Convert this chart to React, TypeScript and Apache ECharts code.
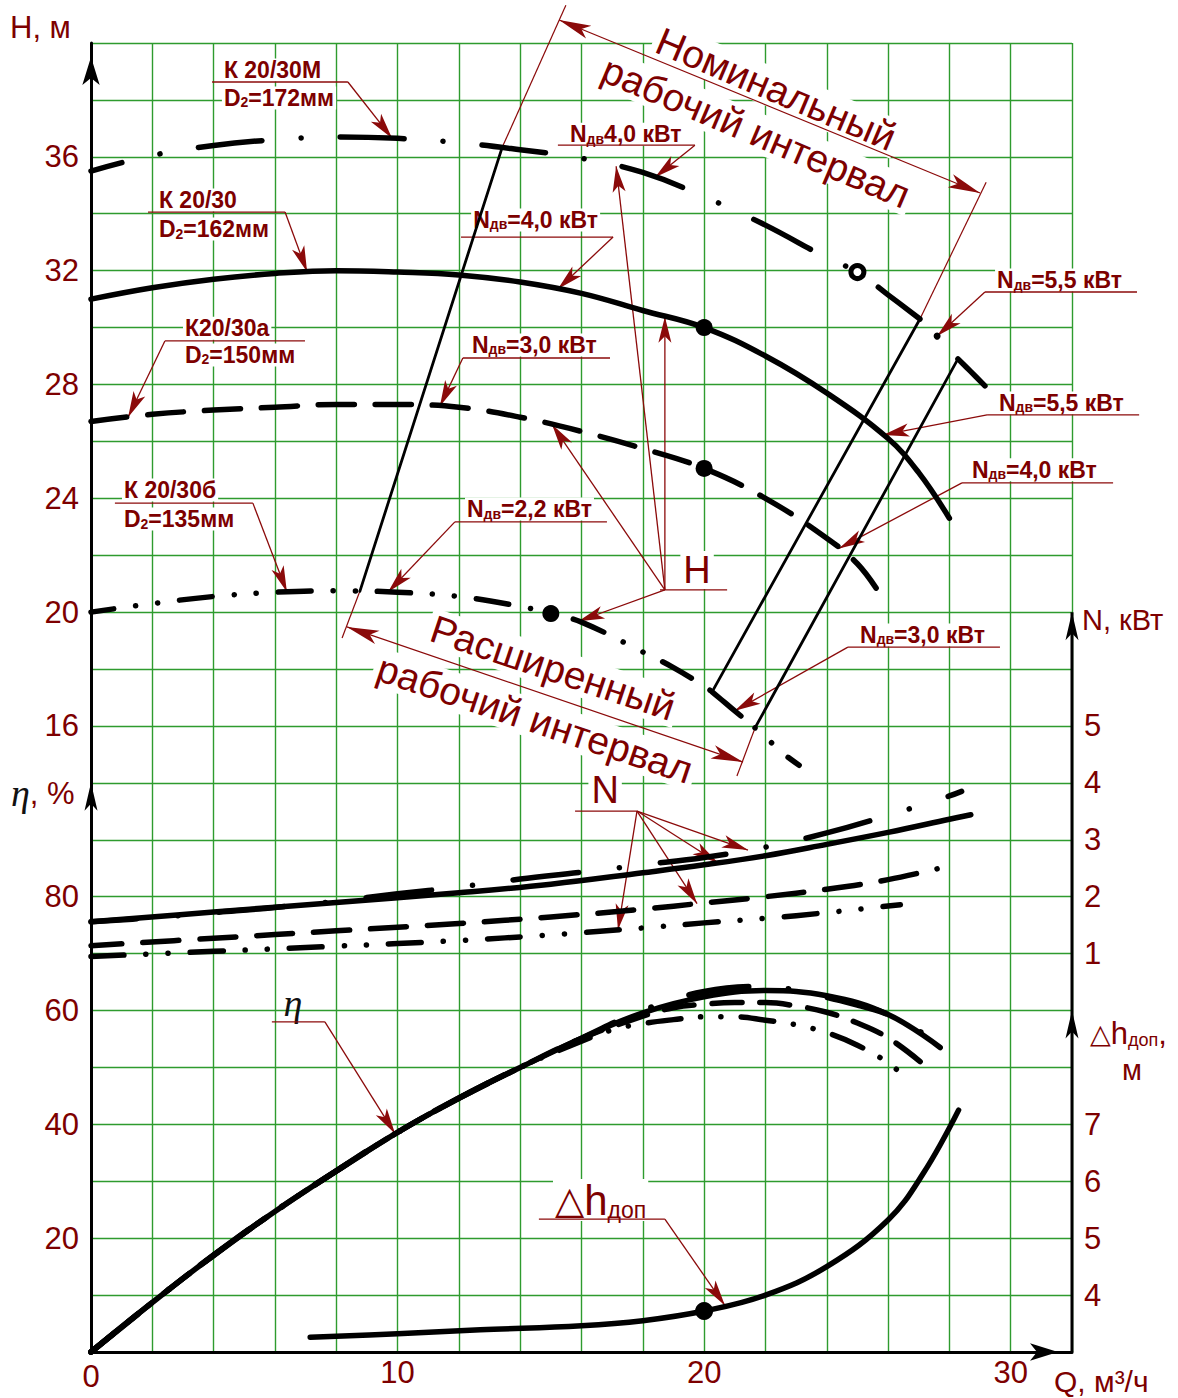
import React, { useEffect, useRef } from "react";
import * as echarts from "echarts";

/* ================= DATA ================= */
const qTickLabels = [0, 10, 20, 30];
const hTickLabels = [16, 20, 24, 28, 32, 36];
const etaTickLabels = [20, 40, 60, 80];
const nTickLabels = [1, 2, 3, 4, 5];
const dhTickLabels = [4, 5, 6, 7];

// H(Q), К 20/30М (D2=172мм)
const qHM = [0, 2, 4, 6, 8, 10, 12, 14, 16, 18, 20, 22, 24, 25, 26, 27.04];
const hHM = [35.5, 36.05, 36.4, 36.6, 36.7, 36.65, 36.5, 36.25, 35.95, 35.45, 34.6, 33.6, 32.45, 31.95, 31.15, 30.3];
const qHMdot = [27.6];
const hHMdot = [29.7];
const qHMtail = [28.28, 28.7, 29.16];
const hHMtail = [28.9, 28.45, 27.95];
// H(Q), К 20/30 (D2=162мм)
const qHS = [0, 2, 4, 6, 8, 10, 12, 14, 16, 18, 20, 22, 24, 26, 27, 28];
const hHS = [31.0, 31.4, 31.7, 31.9, 32.0, 31.95, 31.85, 31.6, 31.2, 30.6, 30.0, 29.0, 27.7, 26.1, 24.9, 23.3];
// H(Q), К20/30а (D2=150мм)
const qHA = [0, 2, 4, 6, 8, 10, 12, 14, 16, 18, 20, 22, 24, 25, 25.7];
const hHA = [26.7, 26.95, 27.1, 27.2, 27.3, 27.3, 27.2, 26.85, 26.35, 25.75, 25.05, 24.0, 22.6, 21.7, 20.7];
// H(Q), К 20/30б (D2=135мм)
const qHB = [0, 2, 4, 6, 8, 10, 12, 14, 15, 16, 18, 19, 20, 20.26];
const hHB = [20.0, 20.3, 20.55, 20.7, 20.75, 20.7, 20.55, 20.2, 19.95, 19.65, 18.6, 18.05, 17.4, 17.2];
const qHB2 = [20.26, 20.7, 21.2];
const hHB2 = [17.2, 16.8, 16.35];
const qHB3 = [21.66, 22, 22.5, 23.1];
const hHB3 = [15.93, 15.62, 15.1, 14.62];

// working interval boundaries (Q where the lines meet К20/30б and К20/30М)
const intervalLeftQ = [8.77, 13.41];
const intervalInnerQ = [20.26, 27.04];
const intervalOuterQ = [21.66, 28.28];

// N(Q), кВт
const qNM = [0, 2, 4, 6, 8, 10, 12, 14, 16, 18, 20, 22, 24, 26, 28, 28.4];
const nNM = [1.56, 1.63, 1.72, 1.81, 1.92, 2.05, 2.17, 2.31, 2.43, 2.56, 2.69, 2.87, 3.12, 3.43, 3.77, 3.85];
const qNS = [0, 4, 8, 12, 15, 18, 20, 22, 24, 26, 28, 28.7];
const nNS = [1.56, 1.73, 1.9, 2.07, 2.22, 2.42, 2.56, 2.72, 2.92, 3.13, 3.36, 3.44];
const qNA = [0, 4, 8, 12, 15, 18, 20, 22, 24, 26, 27.6];
const nNA = [1.14, 1.27, 1.4, 1.53, 1.645, 1.78, 1.89, 2.0, 2.13, 2.3, 2.49];
const qNB = [0, 4, 8, 12, 15, 18, 20, 22, 24, 26.4];
const nNB = [0.95, 1.04, 1.13, 1.23, 1.33, 1.45, 1.54, 1.62, 1.72, 1.86];

// η(Q), %
const qES = [0, 2, 4, 6, 8, 10, 12, 14, 16, 18, 20, 22, 24, 26, 27.7];
const eES = [0, 8.7, 17.0, 24.7, 31.8, 38.6, 44.6, 50.0, 55.1, 59.6, 62.4, 63.5, 62.6, 59.3, 53.5];
const qEM = [0, 2, 4, 6, 8, 10, 12, 14, 16, 18, 20, 22, 23, 25, 26, 27, 27.8];
const eEM = [0, 8.7, 17.0, 24.7, 31.8, 38.6, 44.6, 50.0, 55.1, 60.0, 63.3, 64.2, 63.5, 61.0, 59.3, 56.4, 53.6];
const qEA = [0, 2, 4, 6, 8, 10, 12, 14, 16, 18, 19, 20, 21, 22, 23, 24, 25, 26, 27.1];
const eEA = [0, 8.7, 17.0, 24.7, 31.8, 38.6, 44.6, 50.0, 55.1, 59.0, 60.5, 61.1, 61.4, 61.4, 60.8, 59.7, 57.8, 55.2, 50.8];
const qEB = [0, 2, 4, 6, 8, 10, 12, 14, 16, 17, 18, 19, 20, 21, 22, 23, 24, 25, 26, 26.7];
const eEB = [0, 8.7, 17.0, 24.7, 31.8, 38.6, 44.6, 50.0, 54.6, 56.6, 57.7, 58.4, 58.9, 58.9, 58.3, 57.5, 56.1, 53.9, 50.8, 47.6];

// Δh доп(Q), м
const qDH = [7.15, 10, 12.7, 16, 18, 20, 22, 24, 26, 27.15, 28.3];
const dDH = [3.26, 3.32, 3.39, 3.46, 3.55, 3.72, 4.0, 4.5, 5.32, 6.14, 7.25];

// marked operating points
const markQ_S = 20;
const markQ_A = 20;
const markQ_B = 15;
const markQ_M = 25;
const markQ_DH = 20;

/* ================= STYLE / HELPERS ================= */
const RED = "#7d0000";
const LRED = "#8b0a0a";
const GREEN = "#2e9b2e";
const SANS = "'Liberation Sans', Arial, Helvetica, sans-serif";
const SERIF = "'Liberation Serif', 'DejaVu Serif', 'Times New Roman', serif";

const AX: Record<string, { min: number; max: number }> = {
  H: { min: -6, max: 40 },
  eta: { min: 0, max: 230 },
  N: { min: -6, max: 17 },
  dh: { min: 3, max: 26 },
};
const toH = (axis: string, v: number) => {
  const a = AX[axis];
  const f = (v - a.min) / (a.max - a.min);
  return AX.H.min + f * (AX.H.max - AX.H.min);
};

function interp(qs: number[], vs: number[], q: number) {
  if (q <= qs[0]) return vs[0];
  for (let i = 1; i < qs.length; i++) {
    if (q <= qs[i]) {
      const t = (q - qs[i - 1]) / (qs[i] - qs[i - 1]);
      return vs[i - 1] + t * (vs[i] - vs[i - 1]);
    }
  }
  return vs[vs.length - 1];
}
const zip = (q: number[], v: number[]) => q.map((x, i) => [x, v[i]]);

function curve(data: number[][], yAxisIndex: number, lineStyle: any, smooth: any = 0.4) {
  return {
    type: "line",
    xAxisIndex: 0,
    yAxisIndex,
    data,
    symbol: "none",
    showSymbol: false,
    smooth,
    silent: true,
    z: 3,
    lineStyle: { color: "#000", width: 5.5, cap: "round", join: "round", opacity: 1, ...lineStyle },
  };
}

const DASH_DOT = [64, 39, 0.1, 39];
const DASHED = [36, 21];
const DASH_DOT_DOT = [33, 22, 0.1, 22, 0.1, 22];

/* ================= ANNOTATIONS (custom series, data coords) ================= */
const RB: any = {
  n: { fontSize: 23, fontWeight: "bold", fontFamily: SANS, fill: RED },
  s: { fontSize: 14, fontWeight: "bold", fontFamily: SANS, fill: RED, verticalAlign: "bottom" },
};
const ndv = (v: string) => `{n|N}{s|дв}{n|${v}}`;
const d2 = (v: string) => `{n|D}{s|2}{n|${v}}`;

function renderAnnotations(_params: any, api: any) {
  const P = (q: number, h: number): number[] => api.coord([q, h]);
  const texts: any[] = [];
  const lines: any[] = [];
  const seg = (a: number[], b: number[], color = LRED, w = 1.3) =>
    lines.push({ type: "line", shape: { x1: a[0], y1: a[1], x2: b[0], y2: b[1] }, style: { stroke: color, lineWidth: w } });
  const head = (from: number[], tip: number[], L: number, W: number, color: string) => {
    const dx = tip[0] - from[0];
    const dy = tip[1] - from[1];
    const len = Math.hypot(dx, dy) || 1;
    const ux = dx / len, uy = dy / len, nx = -uy, ny = ux;
    const bx = tip[0] - ux * L, by = tip[1] - uy * L;
    const mx = tip[0] - ux * L * 0.75, my = tip[1] - uy * L * 0.75;
    lines.push({
      type: "polygon",
      shape: { points: [[tip[0], tip[1]], [bx + nx * W, by + ny * W], [mx, my], [bx - nx * W, by - ny * W]] },
      style: { fill: color },
    });
  };
  const leader = (f: number[], t: number[]) => {
    const a = P(f[0], f[1]);
    const b = P(t[0], t[1]);
    seg(a, b);
    head(a, b, 26, 6.5, LRED);
  };
  const under = (q1: number, q2: number, h: number) => seg(P(q1, h), P(q2, h));
  const label = (q: number, h: number, text: string, rich: any = RB, extra: any = {}) => {
    const p = P(q, h);
    texts.push({
      type: "text",
      x: p[0],
      y: p[1],
      style: { text, rich, align: "left", verticalAlign: "middle", backgroundColor: "#fff", padding: [0, 2], ...extra },
    });
  };
  const big = (q: number, h: number, text: string, deg: number) => {
    const p = P(q, h);
    texts.push({
      type: "text",
      x: p[0],
      y: p[1],
      rotation: (-deg * Math.PI) / 180,
      style: { text, fill: RED, fontSize: 39, fontFamily: SANS, align: "center", verticalAlign: "middle", backgroundColor: "#fff", padding: [0, 4] },
    });
  };
  const M = (q: number) => interp(qHM, hHM, q);
  const S = (q: number) => interp(qHS, hHS, q);
  const A = (q: number) => interp(qHA, hHA, q);
  const B = (q: number) => interp(qHB, hHB, q);

  // curve labels
  label(4.27, 39.05, "{n|К 20/30М}");
  label(4.27, 38.07, d2("=172мм"));
  under(3.95, 8.38, 38.63);
  leader([8.38, 38.63], [9.82, M(9.82)]);

  label(2.15, 34.48, "{n|К 20/30}");
  label(2.15, 33.46, d2("=162мм"));
  under(1.86, 6.33, 34.06);
  leader([6.33, 34.06], [7.05, S(7.05)]);

  label(3.0, 29.98, "{n|К20/30а}");
  label(3.0, 29.04, d2("=150мм"));
  under(2.41, 6.98, 29.53);
  leader([2.41, 29.53], [1.21, A(1.21)]);

  label(1.01, 24.29, "{n|К 20/30б}");
  label(1.01, 23.27, d2("=135мм"));
  under(0.78, 5.28, 23.83);
  leader([5.28, 23.83], [6.39, B(6.39)]);

  // motor power labels
  label(15.56, 36.79, ndv("4,0 кВт"));
  under(15.23, 19.7, 36.41);
  leader([19.7, 36.41], [18.4, M(18.4)]);

  label(12.4, 33.78, ndv("=4,0 кВт"));
  under(12.07, 17.03, 33.18);
  leader([17.03, 33.18], [15.23, S(15.23)]);

  label(12.36, 29.39, ndv("=3,0 кВт"));
  under(12.13, 16.93, 28.93);
  leader([12.13, 28.93], [11.38, A(11.38)]);

  label(12.2, 23.62, ndv("=2,2 кВт"));
  under(11.87, 16.83, 23.17);
  leader([11.87, 23.17], [9.69, B(9.69)]);

  label(29.49, 31.67, ndv("=5,5 кВт"));
  under(29.16, 34.12, 31.25);
  leader([29.16, 31.25], [qHMdot[0], hHMdot[0]]);

  label(29.55, 27.35, ndv("=5,5 кВт"));
  under(29.23, 34.19, 26.93);
  leader([29.23, 26.93], [25.84, S(25.84)]);

  label(28.67, 25.0, ndv("=4,0 кВт"));
  under(28.41, 33.34, 24.54);
  leader([28.41, 24.54], [24.4, A(24.4)]);

  label(25.02, 19.2, ndv("=3,0 кВт"));
  under(24.69, 29.65, 18.77);
  leader([24.69, 18.77], [21.0, interp(qHB2, hHB2, 21.0)]);

  // "H" group label
  {
    const p = P(19.77, 21.48);
    texts.push({ type: "text", x: p[0], y: p[1], style: { text: "H", fill: RED, fontSize: 38, fontFamily: SANS, align: "center", verticalAlign: "middle", backgroundColor: "#fff", padding: [0, 3] } });
    under(18.56, 20.75, 20.78);
    const o = [18.72, 20.78];
    leader(o, [17.13, M(17.13)]);
    leader(o, [18.72, S(18.72)]);
    leader(o, [15.04, A(15.04)]);
    leader(o, [15.9, B(15.9)]);
  }
  // "N" group label
  {
    const p = P(16.77, 13.75);
    texts.push({ type: "text", x: p[0], y: p[1], style: { text: "N", fill: RED, fontSize: 38, fontFamily: SANS, align: "center", verticalAlign: "middle", backgroundColor: "#fff", padding: [0, 3] } });
    under(15.79, 17.81, 13.01);
    const o = [17.81, 13.01];
    leader(o, [21.43, toH("N", interp(qNM, nNM, 21.43))]);
    leader(o, [20.45, toH("N", interp(qNS, nNS, 20.45))]);
    leader(o, [19.77, toH("N", interp(qNA, nNA, 19.77))]);
    leader(o, [17.19, toH("N", interp(qNB, nNB, 17.19))]);
  }
  // η label
  {
    const p = P(6.59, 6.26);
    texts.push({ type: "text", x: p[0], y: p[1], style: { text: "η", fill: "#111", fontSize: 38, fontStyle: "italic", fontFamily: SERIF, align: "center", verticalAlign: "middle" } });
    under(5.9, 7.63, 5.6);
    leader([7.63, 5.6], [9.92, toH("eta", interp(qES, eES, 9.92))]);
  }
  // Δh label
  {
    label(15.07, -0.66, "{t|△}{h|h}{s|доп}", {
      t: { fontSize: 38, fontFamily: "'DejaVu Sans', sans-serif", fill: RED },
      h: { fontSize: 42, fontFamily: SANS, fill: RED },
      s: { fontSize: 23, fontFamily: SANS, fill: RED, verticalAlign: "bottom" },
    });
    under(14.61, 18.72, -1.33);
    leader([18.72, -1.33], [20.68, toH("dh", interp(qDH, dDH, 20.68))]);
  }

  // nominal working interval dimension
  big(22.35, 38.38, "Номинальный", 23);
  big(21.69, 36.87, "рабочий интервал", 23);
  {
    seg(P(intervalLeftQ[1], M(intervalLeftQ[1])), P(15.49, 41.33), LRED, 1.2);
    seg(P(intervalInnerQ[1], M(intervalInnerQ[1])), P(29.2, 35.11), LRED, 1.2);
    const a = P(15.27, 40.81), b = P(29.0, 34.73);
    seg(a, b, LRED, 1.2);
    head(b, a, 32, 7, LRED);
    head(a, b, 32, 7, LRED);
  }
  // extended working interval dimension
  big(15.07, 18.04, "Расширенный", 18.5);
  big(14.48, 16.24, "рабочий интервал", 18.5);
  {
    seg(P(intervalLeftQ[0], B(intervalLeftQ[0])), P(8.19, 19.09), LRED, 1.2);
    seg(P(intervalOuterQ[0], interp(qHB3, hHB3, intervalOuterQ[0])), P(21.07, 14.24), LRED, 1.2);
    const a = P(8.35, 19.48), b = P(21.27, 14.73);
    seg(a, b, LRED, 1.2);
    head(b, a, 32, 7, LRED);
    head(a, b, 32, 7, LRED);
  }

  // extra axis decorations: η arrow, right N / Δh axis
  {
    const etaTip = P(0, toH("eta", 100));
    head([etaTip[0], etaTip[1] + 40], etaTip, 28, 6.5, "#000");
    const rb = P(32, AX.H.min), rt = P(32, toH("N", 7));
    seg(rb, rt, "#000", 3);
    head([rt[0], rt[1] + 40], rt, 28, 6.5, "#000");
    const dhTip = P(32, toH("dh", 9));
    head([dhTip[0], dhTip[1] + 40], dhTip, 28, 6.5, "#000");
  }

  return { type: "group", children: [...texts, ...lines] };
}

/* ================= OPTION ================= */
function buildOption(): any {
  const labelBase = { fontSize: 31, color: RED, fontFamily: SANS };
  const yAxisBase = (axis: string, position: string, ticks: number[], interval: number, extra: any = {}) => ({
    type: "value",
    position,
    min: AX[axis].min,
    max: AX[axis].max,
    interval,
    axisLine: { show: false, onZero: false },
    axisTick: { show: false },
    splitLine: { show: false },
    axisLabel: { ...labelBase, margin: 12, formatter: (v: number) => (ticks.includes(v) ? String(v) : "") },
    ...extra,
  });
  const dotStyle = { color: "#000", opacity: 1 };

  const series: any[] = [
    // H curves
    curve(zip(qHM, hHM), 0, { type: DASH_DOT, dashOffset: 32 }),
    curve(zip(qHMtail, hHMtail), 0, { type: "solid" }),
    curve(zip(qHS, hHS), 0, { type: "solid" }),
    curve(zip(qHA, hHA), 0, { type: DASHED, dashOffset: 0 }),
    curve(zip(qHB, hHB), 0, { type: DASH_DOT_DOT, dashOffset: 10 }),
    curve(zip(qHB2, hHB2), 0, { type: "solid" }),
    curve(zip(qHB3, hHB3), 0, { type: DASH_DOT_DOT, dashOffset: 55 }),
    {
      type: "scatter",
      yAxisIndex: 0,
      data: zip(qHMdot, hHMdot),
      symbol: "circle",
      symbolSize: 7,
      itemStyle: dotStyle,
      silent: true,
      z: 4,
    },
    // working interval lines
    curve([[intervalLeftQ[0], interp(qHB, hHB, intervalLeftQ[0])], [intervalLeftQ[1], interp(qHM, hHM, intervalLeftQ[1])]], 0, { width: 2.8 }, false),
    curve([[intervalInnerQ[0], interp(qHB, hHB, intervalInnerQ[0])], [intervalInnerQ[1], interp(qHM, hHM, intervalInnerQ[1])]], 0, { width: 2.8 }, false),
    curve([[intervalOuterQ[0], interp(qHB3, hHB3, intervalOuterQ[0])], [intervalOuterQ[1], interp(qHMtail, hHMtail, intervalOuterQ[1])]], 0, { width: 2.8 }, false),
    // N curves
    curve(zip(qNS, nNS), 2, { type: "solid" }),
    curve(zip(qNM, nNM), 2, { type: [66, 41, 0.1, 41], dashOffset: 20 }),
    curve(zip(qNA, nNA), 2, { type: DASHED, dashOffset: 5 }),
    curve(zip(qNB, nNB), 2, { type: DASH_DOT_DOT, dashOffset: 0 }),
    // η curves
    curve(zip(qES, eES), 1, { type: "solid" }),
    curve(zip(qEM, eEM), 1, { type: [60, 40, 0.1, 40], width: 6 }),
    curve(zip(qEA, eEA), 1, { type: [30, 18] }),
    curve(zip(qEB, eEB), 1, { type: [33, 20, 0.1, 20, 0.1, 20] }),
    // Δh
    curve(zip(qDH, dDH), 3, { type: "solid" }),
    // markers
    {
      type: "scatter",
      yAxisIndex: 0,
      data: [
        [markQ_S, interp(qHS, hHS, markQ_S)],
        [markQ_A, interp(qHA, hHA, markQ_A)],
        [markQ_B, interp(qHB, hHB, markQ_B)],
      ],
      symbol: "circle",
      symbolSize: 17,
      itemStyle: dotStyle,
      silent: true,
      z: 5,
    },
    {
      type: "scatter",
      yAxisIndex: 0,
      data: [[markQ_M, interp(qHM, hHM, markQ_M)]],
      symbol: "circle",
      symbolSize: 13,
      itemStyle: { color: "#fff", borderColor: "#000", borderWidth: 5, opacity: 1 },
      silent: true,
      z: 5,
    },
    {
      type: "scatter",
      yAxisIndex: 3,
      data: [[markQ_DH, interp(qDH, dDH, markQ_DH)]],
      symbol: "circle",
      symbolSize: 18,
      itemStyle: dotStyle,
      silent: true,
      z: 5,
    },
    // annotations
    {
      type: "custom",
      xAxisIndex: 0,
      yAxisIndex: 0,
      data: [[0, 0]],
      renderItem: renderAnnotations,
      clip: false,
      silent: true,
      z: 2,
    },
  ];

  return {
    animation: false,
    backgroundColor: "#fff",
    grid: { left: 91, right: 106, top: 43, bottom: 46, containLabel: false },
    xAxis: {
      type: "value",
      min: 0,
      max: 32,
      interval: 2,
      axisLine: {
        show: true,
        onZero: false,
        lineStyle: { color: "#000", width: 3 },
        symbol: ["none", "arrow"],
        symbolSize: [13, 28],
        symbolOffset: [0, -14],
      },
      axisTick: { show: false },
      splitLine: { show: true, lineStyle: { color: GREEN, width: 1.4 } },
      axisLabel: {
        ...labelBase,
        margin: 5,
        lineHeight: 30,
        formatter: (v: number) => (qTickLabels.includes(v) ? (v === 0 ? "{z|0}" : String(v)) : ""),
        rich: { z: { fontSize: 31, color: RED, fontFamily: SANS, lineHeight: 30, padding: [8, 0, 0, 0] } },
      },
    },
    yAxis: [
      yAxisBase("H", "left", hTickLabels, 2, {
        axisLine: {
          show: true,
          onZero: false,
          lineStyle: { color: "#000", width: 3 },
          symbol: ["none", "arrow"],
          symbolSize: [13, 28],
          symbolOffset: [0, -14],
        },
        splitLine: { show: true, lineStyle: { color: GREEN, width: 1.4 } },
      }),
      yAxisBase("eta", "left", etaTickLabels, 10),
      yAxisBase("N", "right", nTickLabels, 1),
      yAxisBase("dh", "right", dhTickLabels, 1),
    ],
    graphic: [
      { type: "text", x: 10, y: 27, z: 10, style: { text: "H, м", fill: RED, fontSize: 31, fontFamily: SANS, verticalAlign: "middle" } },
      {
        type: "text",
        x: 11,
        y: 793,
        z: 10,
        style: {
          text: "{e|η}{p|, %}",
          verticalAlign: "middle",
          rich: {
            e: { fontSize: 38, fontStyle: "italic", fontFamily: SERIF, fill: "#111" },
            p: { fontSize: 31, fontFamily: SANS, fill: RED },
          },
        },
      },
      { type: "text", x: 1082, y: 620, z: 10, style: { text: "N, кВт", fill: RED, fontSize: 29, fontFamily: SANS, verticalAlign: "middle" } },
      {
        type: "text",
        x: 1090,
        y: 1033,
        z: 10,
        style: {
          text: "{t|△}{h|h}{s|доп}{h|,}",
          verticalAlign: "middle",
          rich: {
            t: { fontSize: 27, fontFamily: "'DejaVu Sans', sans-serif", fill: RED },
            h: { fontSize: 31, fontFamily: SANS, fill: RED },
            s: { fontSize: 18, fontFamily: SANS, fill: RED, verticalAlign: "bottom" },
          },
        },
      },
      { type: "text", x: 1132, y: 1070, z: 10, style: { text: "м", fill: RED, fontSize: 29, fontFamily: SANS, align: "center", verticalAlign: "middle" } },
      { type: "text", x: 1054, y: 1381, z: 10, style: { text: "Q, м³/ч", fill: RED, fontSize: 30, fontFamily: SANS, verticalAlign: "middle" } },
    ],
    series,
  };
}

export default function App() {
  const ref = useRef<HTMLDivElement>(null);
  useEffect(() => {
    if (!ref.current) return;
    const chart = echarts.init(ref.current, undefined, { renderer: "svg" });
    chart.setOption(buildOption());
    return () => chart.dispose();
  }, []);
  return (
    <div
      ref={ref}
      style={{ position: "absolute", left: 0, top: 0, width: 1178, height: 1398, background: "#fff" }}
    />
  );
}
